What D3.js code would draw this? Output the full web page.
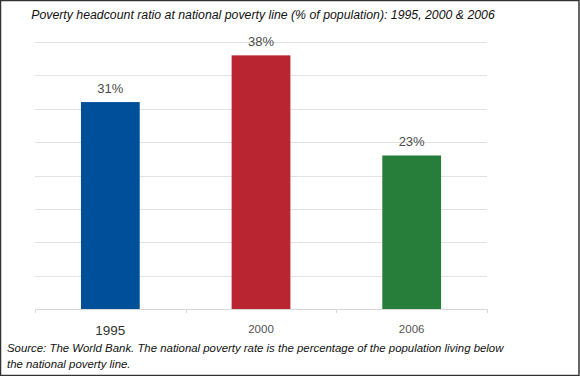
<!DOCTYPE html>
<html>
<head>
<meta charset="utf-8">
<script src="https://cdn.jsdelivr.net/npm/d3@7"></script>
<style>
  body { margin: 0; background: #fff; }
  svg { display: block; font-family: "Liberation Sans", Arial, sans-serif; }
</style>
</head>
<body>
<script>
var w = 580;
var h = 376;

// data
var years = ["1995", "2000", "2006"];
var rates = [31, 38, 23];
var barColors = ["#004f9a", "#ba2532", "#267e3a"];
var gridTicks = [0, 5, 10, 15, 20, 25, 30, 35, 40];

var titleText = "Poverty headcount ratio at national poverty line (% of population): 1995, 2000 & 2006";
var sourceLines = ["Source: The World Bank. The national poverty rate is the percentage of the population living below",
                   "the national poverty line."];

var svg = d3.select("body").append("svg")
    .attr("width", w)
    .attr("height", h);

// frame
svg.append("rect")
    .attr("x", 0.5).attr("y", 0.5)
    .attr("width", w - 1.5).attr("height", h - 1)
    .attr("fill", "#fff")
    .attr("stroke", "#333")
    .attr("stroke-width", 1.5);

// plot area
var plotLeft = 35, plotRight = 487, plotTop = 42, plotBottom = 309;

var x = d3.scaleBand()
    .domain(years)
    .range([plotLeft, plotRight]);

var y = d3.scaleLinear()
    .domain([0, 40])
    .range([plotBottom, plotTop]);

var barW = x.bandwidth() * 0.39;

// gridlines
svg.append("g").selectAll("line")
    .data(gridTicks.slice(1))
    .enter().append("line")
    .attr("x1", plotLeft).attr("x2", plotRight)
    .attr("y1", function(d) { return Math.round(y(d)) + 0.5; })
    .attr("y2", function(d) { return Math.round(y(d)) + 0.5; })
    .attr("stroke", "#e2e2e2")
    .attr("stroke-width", 1);

// bars
svg.append("g").selectAll("rect")
    .data(rates)
    .enter().append("rect")
    .attr("x", function(d, i) { return x(years[i]) + (x.bandwidth() - barW) / 2; })
    .attr("y", function(d) { return y(d); })
    .attr("width", barW)
    .attr("height", function(d) { return y(0) - y(d); })
    .attr("fill", function(d, i) { return barColors[i]; });

// value labels
svg.append("g").selectAll("text")
    .data(rates)
    .enter().append("text")
    .attr("x", function(d, i) { return x(years[i]) + x.bandwidth() / 2; })
    .attr("y", function(d) { return y(d) - 9; })
    .attr("text-anchor", "middle")
    .attr("fill", "#4a4a4a")
    .attr("font-size", 13)
    .text(function(d) { return d + "%"; });

// baseline and category ticks at band edges
var xAxis = svg.append("g");
xAxis.append("line")
    .attr("x1", plotLeft).attr("x2", plotRight)
    .attr("y1", plotBottom + 0.5).attr("y2", plotBottom + 0.5)
    .attr("stroke", "#d8d8d8");

var edges = years.map(function(d) { return x(d); }).concat([plotRight]);
xAxis.selectAll(".tick")
    .data(edges)
    .enter().append("line")
    .attr("class", "tick")
    .attr("x1", function(d) { return Math.round(d) + 0.5; })
    .attr("x2", function(d) { return Math.round(d) + 0.5; })
    .attr("y1", plotBottom).attr("y2", plotBottom + 4)
    .attr("stroke", "#d8d8d8");

xAxis.selectAll(".lab")
    .data(years)
    .enter().append("text")
    .attr("class", "lab")
    .attr("x", function(d) { return x(d) + x.bandwidth() / 2; })
    .attr("y", function(d, i) { return i == 0 ? 335 : 333; })
    .attr("text-anchor", "middle")
    .attr("fill", function(d, i) { return i == 0 ? "#333" : "#555"; })
    .attr("font-size", function(d, i) { return i == 0 ? 13.5 : 11.5; })
    .text(function(d) { return d; });

// title
svg.append("text")
    .attr("x", 263)
    .attr("y", 19)
    .attr("text-anchor", "middle")
    .attr("font-style", "italic")
    .attr("font-size", 12.3)
    .attr("fill", "#111")
    .text(titleText);

// source note
svg.append("g").selectAll("text")
    .data(sourceLines)
    .enter().append("text")
    .attr("x", 7)
    .attr("y", function(d, i) { return 352 + i * 16; })
    .attr("font-style", "italic")
    .attr("font-size", 11.4)
    .attr("fill", "#111")
    .text(function(d) { return d; });
</script>
</body>
</html>
